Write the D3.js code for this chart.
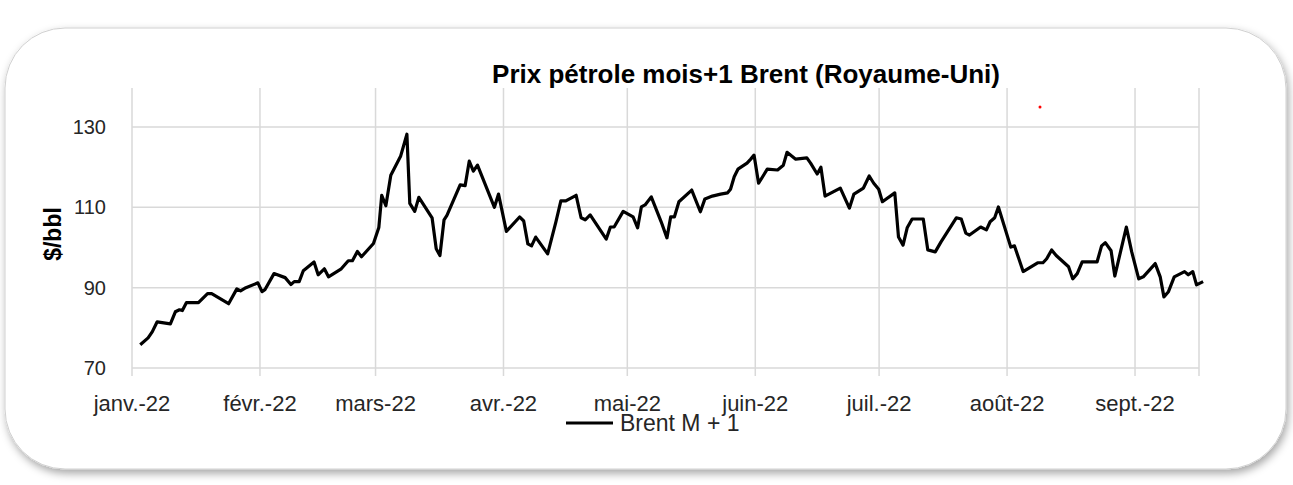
<!DOCTYPE html>
<html><head><meta charset="utf-8">
<script src="https://cdn.jsdelivr.net/npm/d3@7"></script>
<style>body{margin:0;background:#fff}svg{display:block}text{font-family:Arial,"Liberation Sans",sans-serif}</style>
</head><body>
<svg id="c" width="1293" height="485"></svg>
<script>
// day offset from 1 Jan 2022, Brent M+1 close ($/bbl)
var days = [2.0,3.9,4.9,6.1,9.3,10.5,11.5,12.2,13.2,16.1,18.3,19.3,23.4,25.4,26.3,27.6,30.5,31.5,32.2,34.4,37.1,38.5,39.3,40.5,41.5,44.1,45.1,46.6,47.6,50.7,52.4,53.4,54.6,55.6,58.5,59.8,60.5,61.5,62.7,65.1,66.6,67.3,68.5,69.5,72.7,73.7,74.6,75.6,76.3,79.5,80.7,81.7,82.7,83.7,87.8,88.8,90.7,93.9,94.9,95.9,96.8,97.8,100.7,102.7,103.9,105.1,107.6,108.8,109.8,111,114.9,115.9,116.8,119,
  121.4,122.5,123.4,124.3,125.8,128.2,129.6,130.5,131.4,132.5,135.6,137.7,138.8,140.6,142.6,144.3,145,145.9,146.8,149,149.9,150.7,151.8,153.9,156.4,157.8,158.7,160.8,163.5,164.4,166,166.9,167.9,171.6,173.8,174.9,177.2,178.6,179.7,180.9,181.8,184.8,185.7,186.8,187.8,189,191.7,192.8,194.6,196,199.7,200.9,202,202.9,205.6,207,207.9,209,209.9,212.9,213.8,215.9,219.4,220.7,221.6,222.8,223.9,226.9,227.9,229,230.2,233.8,234.9,235.8,237.2,238.1,240.9,242.2,243.9,245,247.9,249.1,250,251.1,252.5,255,255.9,257,257.9,259.5];
var brent = [75.8,77.5,79,81.5,81,84,84.5,84.3,86.3,86.3,88.5,88.5,86,89.7,89.2,90,91.2,89,89.5,93.5,92.5,90.8,91.5,91.5,94.2,96.4,93.2,94.7,92.7,94.7,96.7,96.7,99,97.7,101,105,113,110.4,118,122.8,128.2,111,109,112.5,107.4,99.7,98,106.9,108,115.6,115.4,121.5,119,120.5,110,113.3,104,107.6,106.6,100.9,100.4,102.6,98.4,106.4,111.6,111.6,113,107.4,106.9,108.1,102.1,105.1,105.1,109,
  107.6,104.9,110.1,110.6,112.6,106.4,102.4,107.6,107.6,111.4,114.3,108.9,112.1,112.8,113.3,113.6,114.5,117.6,119.5,121,122,123,116,119.5,119.3,120.5,123.7,122,122.3,121,118.3,120,112.8,114.8,109.8,113.3,114.8,117.8,116,114.5,111.4,113.6,102.6,100.6,104.9,107.1,107.1,99.4,98.9,101.4,107.4,107.1,103.6,103.1,105.1,104.4,106.4,107.4,110.1,100.1,100.4,94,96.2,96.2,97.2,99.4,98,95.2,92.2,93.5,96.4,96.4,100.4,101.2,99.2,92.9,105.1,98.9,92.2,92.7,96,92.7,87.7,89,92.7,94,93.2,94,90.7,91.5];
var monthLabels = ["janv.-22","févr.-22","mars-22","avr.-22","mai-22","juin-22","juil.-22","août-22","sept.-22"];
var yTicks = [70, 90, 110, 130];

var svg = d3.select("#c");
var defs = svg.append("defs");
var f = defs.append("filter").attr("id","sh").attr("x","-5%").attr("y","-10%").attr("width","110%").attr("height","125%");
f.append("feDropShadow").attr("dx",2).attr("dy",4).attr("stdDeviation",4).attr("flood-color","#000").attr("flood-opacity",0.35);
svg.append("rect").attr("x",5).attr("y",28).attr("width",1281).attr("height",441).attr("rx",60)
  .attr("fill","#fff").attr("stroke","#d0d0d0").attr("filter","url(#sh)");

var t0 = new Date(2022,0,1);
var toDate = function (d) { return d3.timeDay.offset(t0, Math.floor(d)).getTime() + (d % 1) * 864e5; };
var x = d3.scaleTime().domain([t0, new Date(2022,8,16,12)]).range([132,1199]);
var y = d3.scaleLinear().domain([70,130]).range([368,127]);
var months = d3.range(9).map(function (m) { return new Date(2022,m,1); });

var g = svg.append("g");
g.selectAll(".vg").data(months).enter().append("line")
  .attr("x1",function(d){return x(d);}).attr("x2",function(d){return x(d);})
  .attr("y1",88).attr("y2",376).attr("stroke","#d9d9d9").attr("stroke-width",1.5);
g.append("line").attr("x1",1199).attr("x2",1199).attr("y1",88).attr("y2",376).attr("stroke","#d9d9d9").attr("stroke-width",1.5);
g.selectAll(".hg").data(yTicks).enter().append("line")
  .attr("x1",132).attr("x2",1199).attr("y1",function(d){return y(d);}).attr("y2",function(d){return y(d);})
  .attr("stroke","#d9d9d9").attr("stroke-width",1.5);

g.selectAll(".yt").data(yTicks).enter().append("text")
  .attr("x",106).attr("y",function(d){return y(d)+7;}).attr("text-anchor","end")
  .attr("font-size",20).attr("fill","#262626").text(function(d){return d;});
g.selectAll(".xt").data(months).enter().append("text")
  .attr("x",function(d){return x(d);}).attr("y",411).attr("text-anchor","middle")
  .attr("font-size",22).attr("fill","#262626").text(function(d,i){return monthLabels[i];});

var line = d3.line().x(function(d,i){return x(toDate(days[i]));}).y(function(d){return y(d);});
g.append("path").datum(brent).attr("d",line).attr("fill","none").attr("stroke","#000")
  .attr("stroke-width",3.2).attr("stroke-linejoin","round");

svg.append("text").attr("x",746).attr("y",83).attr("text-anchor","middle").attr("font-size",26)
  .attr("font-weight","bold").attr("fill","#000").text("Prix pétrole mois+1 Brent (Royaume-Uni)");
svg.append("text").attr("transform","translate(61,234) rotate(-90)").attr("text-anchor","middle")
  .attr("font-size",23).attr("font-weight","bold").attr("fill","#000").text("$/bbl");
svg.append("line").attr("x1",566).attr("x2",613).attr("y1",423).attr("y2",423).attr("stroke","#000").attr("stroke-width",3.2);
svg.append("text").attr("x",620).attr("y",431).attr("font-size",23).attr("fill","#262626").text("Brent M + 1");
svg.append("circle").attr("cx",1040).attr("cy",107).attr("r",1.5).attr("fill","#f00");
</script>
</body></html>
